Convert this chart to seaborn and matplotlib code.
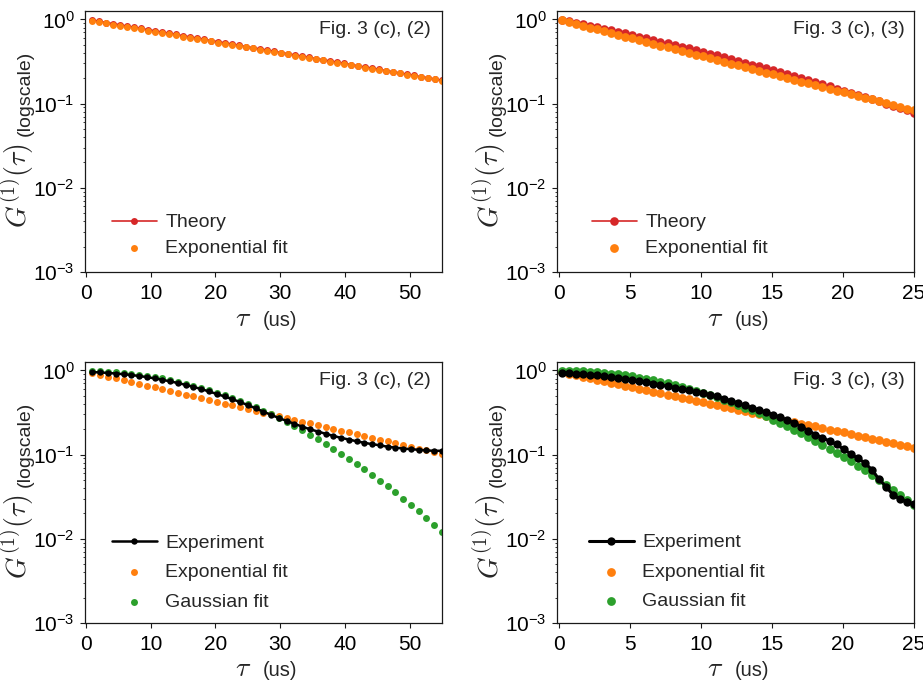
import numpy as np
import matplotlib
matplotlib.use("Agg")
import matplotlib.pyplot as plt
import seaborn as sns

# ---------------------------------------------------------------------------
# Delay grids (us)
# ---------------------------------------------------------------------------
tau_theory_2 = np.linspace(1, 55, 51)   # panel (2), theory sampling
tau_exp_2 = np.linspace(1, 55, 46)      # panel (2), measurement sampling
tau_3 = np.linspace(0.2, 25, 51)        # panel (3)

# ---------------------------------------------------------------------------
# G1(tau) values
# ---------------------------------------------------------------------------
# Panel (2): theory and its exponential fit
g1_theory_2 = [0.982, 0.950, 0.919, 0.890, 0.861, 0.833, 0.806, 0.780, 0.755, 0.730,
               0.707, 0.684, 0.662, 0.640, 0.620, 0.600, 0.580, 0.561, 0.543, 0.526,
               0.509, 0.492, 0.476, 0.461, 0.446, 0.432, 0.418, 0.404, 0.391, 0.378,
               0.366, 0.354, 0.343, 0.332, 0.321, 0.311, 0.301, 0.291, 0.281, 0.272,
               0.264, 0.255, 0.247, 0.239, 0.231, 0.224, 0.216, 0.209, 0.203, 0.196,
               0.190]
g1_theory_2_expfit = [0.955, 0.924, 0.895, 0.866, 0.838, 0.812, 0.786, 0.760, 0.736, 0.712,
                      0.690, 0.668, 0.646, 0.625, 0.605, 0.586, 0.567, 0.549, 0.531, 0.514,
                      0.498, 0.482, 0.467, 0.452, 0.437, 0.423, 0.410, 0.397, 0.384, 0.372,
                      0.360, 0.348, 0.337, 0.326, 0.316, 0.306, 0.296, 0.286, 0.277, 0.268,
                      0.260, 0.251, 0.243, 0.236, 0.228, 0.221, 0.214, 0.207, 0.200, 0.194,
                      0.188]

# Panel (3): theory and its exponential fit
g1_theory_3 = [0.984, 0.947, 0.910, 0.874, 0.840, 0.806, 0.774, 0.742, 0.711, 0.681,
               0.652, 0.624, 0.597, 0.571, 0.546, 0.522, 0.498, 0.475, 0.453, 0.432,
               0.412, 0.393, 0.374, 0.356, 0.338, 0.322, 0.306, 0.290, 0.276, 0.262,
               0.248, 0.235, 0.223, 0.211, 0.200, 0.189, 0.179, 0.169, 0.160, 0.151,
               0.143, 0.135, 0.127, 0.120, 0.113, 0.106, 0.100, 0.0941, 0.0885, 0.0832,
               0.0782]
g1_theory_3_expfit = [0.973, 0.926, 0.882, 0.839, 0.799, 0.761, 0.724, 0.689, 0.656, 0.625,
                      0.595, 0.566, 0.539, 0.513, 0.489, 0.465, 0.443, 0.422, 0.401, 0.382,
                      0.364, 0.346, 0.330, 0.314, 0.299, 0.284, 0.271, 0.258, 0.245, 0.234,
                      0.222, 0.212, 0.202, 0.192, 0.183, 0.174, 0.166, 0.158, 0.150, 0.143,
                      0.136, 0.130, 0.123, 0.117, 0.112, 0.106, 0.101, 0.0964, 0.0918, 0.0874,
                      0.0832]

# Panel (2): measurement with exponential and Gaussian fits
g1_meas_2 = [0.955, 0.946, 0.933, 0.918, 0.902, 0.881, 0.859, 0.832, 0.804, 0.773,
             0.741, 0.708, 0.673, 0.637, 0.600, 0.562, 0.525, 0.490, 0.455, 0.421,
             0.387, 0.355, 0.324, 0.296, 0.272, 0.251, 0.232, 0.215, 0.200, 0.188,
             0.177, 0.167, 0.158, 0.151, 0.144, 0.138, 0.133, 0.129, 0.124, 0.121,
             0.118, 0.116, 0.114, 0.112, 0.111, 0.111]
g1_meas_2_expfit = [0.929, 0.884, 0.842, 0.802, 0.763, 0.727, 0.692, 0.659, 0.627, 0.597,
                    0.568, 0.541, 0.515, 0.491, 0.467, 0.445, 0.423, 0.403, 0.384, 0.365,
                    0.348, 0.331, 0.315, 0.300, 0.286, 0.272, 0.259, 0.247, 0.235, 0.224,
                    0.213, 0.203, 0.193, 0.184, 0.175, 0.166, 0.158, 0.151, 0.144, 0.137,
                    0.130, 0.124, 0.118, 0.112, 0.107, 0.102]
g1_meas_2_gaussfit = [0.982, 0.976, 0.967, 0.953, 0.936, 0.916, 0.892, 0.865, 0.835, 0.803,
                      0.769, 0.734, 0.697, 0.659, 0.620, 0.582, 0.543, 0.505, 0.468, 0.432,
                      0.396, 0.363, 0.330, 0.300, 0.270, 0.243, 0.218, 0.194, 0.173, 0.153,
                      0.134, 0.118, 0.103, 0.0896, 0.0776, 0.0670, 0.0575, 0.0492, 0.0419, 0.0355,
                      0.0300, 0.0253, 0.0212, 0.0177, 0.0147, 0.0121]

# Panel (3): measurement with exponential and Gaussian fits
g1_meas_3 = [0.933, 0.925, 0.914, 0.902, 0.887, 0.871, 0.851, 0.832, 0.811, 0.789,
             0.767, 0.745, 0.721, 0.698, 0.673, 0.647, 0.624, 0.600, 0.578, 0.558,
             0.540, 0.516, 0.490, 0.461, 0.435, 0.409, 0.385, 0.361, 0.339, 0.319,
             0.299, 0.278, 0.257, 0.236, 0.215, 0.192, 0.173, 0.158, 0.145, 0.132,
             0.116, 0.102, 0.0906, 0.0798, 0.0664, 0.0513, 0.0417, 0.0333, 0.0295, 0.0274,
             0.0260]
g1_meas_3_expfit = [0.955, 0.916, 0.879, 0.843, 0.809, 0.776, 0.745, 0.715, 0.686, 0.658,
                    0.631, 0.606, 0.581, 0.558, 0.535, 0.513, 0.493, 0.473, 0.454, 0.435,
                    0.418, 0.401, 0.384, 0.369, 0.354, 0.340, 0.326, 0.313, 0.300, 0.288,
                    0.276, 0.265, 0.254, 0.244, 0.234, 0.225, 0.216, 0.207, 0.198, 0.190,
                    0.183, 0.175, 0.168, 0.161, 0.155, 0.149, 0.143, 0.137, 0.131, 0.126,
                    0.121]
g1_meas_3_gaussfit = [0.993, 0.990, 0.985, 0.977, 0.966, 0.952, 0.936, 0.917, 0.897, 0.874,
                      0.849, 0.823, 0.795, 0.766, 0.736, 0.705, 0.673, 0.641, 0.608, 0.576,
                      0.543, 0.512, 0.480, 0.449, 0.419, 0.390, 0.362, 0.335, 0.309, 0.284,
                      0.261, 0.238, 0.217, 0.198, 0.179, 0.162, 0.146, 0.131, 0.117, 0.105,
                      0.0935, 0.0831, 0.0736, 0.0650, 0.0572, 0.0503, 0.0440, 0.0384, 0.0334, 0.0290,
                      0.0251]

panel_tags = ["Fig. 3 (c), (2)", "Fig. 3 (c), (3)"]

RED = "#d62728"
ORANGE = "#ff7f0e"
GREEN = "#2ca02c"
BLACK = "#000000"
INK = "#1a1a1a"

# ---------------------------------------------------------------------------
# Style
# ---------------------------------------------------------------------------
sns.set_theme(style="ticks")
plt.rcParams.update({
    "font.family": ["Liberation Sans", "DejaVu Sans"],
    "mathtext.fontset": "cm",
    "axes.unicode_minus": False,
    "axes.edgecolor": INK,
    "axes.linewidth": 0.9,
    "axes.facecolor": "white",
    "figure.facecolor": "white",
})

fig = plt.figure(figsize=(9.23, 6.81), dpi=100)
W, H = 0.3868, 0.3833
ax_tl = fig.add_axes([0.0921, 0.6006, W, H])
ax_tr = fig.add_axes([0.6035, 0.6006, W, H])
ax_bl = fig.add_axes([0.0921, 0.0852, W, H])
ax_br = fig.add_axes([0.6035, 0.0852, W, H])


def style_panel(ax, xmin, xmax, xstep, tag, tag_x, leg_anchor, leg_spacing):
    ax.set_yscale("log")
    ax.set_xlim(xmin, xmax)
    ax.set_ylim(1e-3, 1.26)
    ax.set_xticks(np.arange(0, xmax + 0.01, xstep))
    ax.tick_params(axis="both", which="major", labelsize=15, length=3.5,
                   width=0.8, color=INK, labelcolor="black", direction="out")
    ax.tick_params(axis="y", which="minor", length=1.8, width=0.6, color=INK)
    ax.tick_params(axis="x", which="major", pad=5)
    ax.tick_params(axis="y", which="major", pad=4)

    # axis labels: math part in Computer Modern, units in the text face
    ax.set_xlabel(r"$\tau$", fontsize=20)
    ax.xaxis.set_label_coords(0.443, -0.205)
    ax.xaxis.label.set_va("baseline")
    ax.text(0.546, -0.205, "(us)", fontsize=14.5, ha="center", va="baseline",
            transform=ax.transAxes)

    ax.set_ylabel(r"$G^{(1)}(\tau)$", fontsize=20)
    ax.yaxis.set_label_coords(-0.163, 0.33)
    ax.yaxis.label.set_va("baseline")
    ax.text(-0.156, 0.686, "(logscale)", fontsize=14, rotation=90,
            rotation_mode="anchor", ha="center", va="baseline",
            transform=ax.transAxes)

    ax.text(tag_x, 0.928, tag, fontsize=14, ha="right", va="center",
            transform=ax.transAxes)

    ax.legend(loc="lower left", bbox_to_anchor=leg_anchor, frameon=False,
              fontsize=14, borderpad=0, borderaxespad=0, handlelength=2.3,
              handletextpad=0.45, labelspacing=leg_spacing)


# --- top left: theory, panel (2)
sns.lineplot(x=tau_theory_2, y=g1_theory_2, ax=ax_tl, color=RED, linewidth=1.2,
             marker="o", markersize=5, markeredgewidth=0, label="Theory",
             estimator=None, sort=False)
sns.scatterplot(x=tau_theory_2, y=g1_theory_2_expfit, ax=ax_tl, color=ORANGE,
                s=25, linewidth=0, label="Exponential fit", zorder=2.5)
style_panel(ax_tl, -0.15, 55, 10, panel_tags[0], 0.969, (0.0756, 0.057), 0.42)

# --- top right: theory, panel (3)
sns.lineplot(x=tau_3, y=g1_theory_3, ax=ax_tr, color=RED, linewidth=1.2,
             marker="o", markersize=6.2, markeredgewidth=0, label="Theory",
             estimator=None, sort=False)
sns.scatterplot(x=tau_3, y=g1_theory_3_expfit, ax=ax_tr, color=ORANGE,
                s=40, linewidth=0, label="Exponential fit", zorder=2.5)
style_panel(ax_tr, -0.14, 25, 5, panel_tags[1], 0.975, (0.098, 0.057), 0.42)

# --- bottom left: measurement, panel (2)
sns.lineplot(x=tau_exp_2, y=g1_meas_2, ax=ax_bl, color=BLACK, linewidth=1.8,
             marker="o", markersize=4.6, markeredgewidth=0, label="Experiment",
             estimator=None, sort=False, zorder=3)
sns.scatterplot(x=tau_exp_2, y=g1_meas_2_expfit, ax=ax_bl, color=ORANGE,
                s=25, linewidth=0, label="Exponential fit", zorder=2.5)
sns.scatterplot(x=tau_exp_2, y=g1_meas_2_gaussfit, ax=ax_bl, color=GREEN,
                s=25, linewidth=0, label="Gaussian fit", zorder=2.5)
style_panel(ax_bl, -0.15, 55, 10, panel_tags[0], 0.969, (0.0756, 0.047), 0.6)

# --- bottom right: measurement, panel (3)
sns.lineplot(x=tau_3, y=g1_meas_3, ax=ax_br, color=BLACK, linewidth=2.2,
             marker="o", markersize=6, markeredgewidth=0, label="Experiment",
             estimator=None, sort=False, zorder=3)
sns.scatterplot(x=tau_3, y=g1_meas_3_expfit, ax=ax_br, color=ORANGE,
                s=40, linewidth=0, label="Exponential fit", zorder=2.5)
sns.scatterplot(x=tau_3, y=g1_meas_3_gaussfit, ax=ax_br, color=GREEN,
                s=40, linewidth=0, label="Gaussian fit", zorder=2.5)
style_panel(ax_br, -0.14, 25, 5, panel_tags[1], 0.975, (0.0896, 0.05), 0.6)

fig.savefig("out.png", dpi=100)
